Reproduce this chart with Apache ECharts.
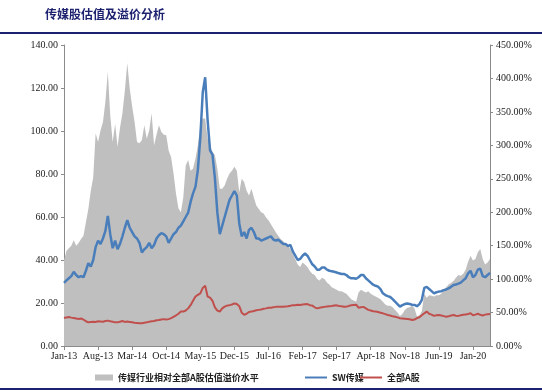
<!DOCTYPE html>
<html>
<head>
<meta charset="utf-8">
<script src="https://cdn.jsdelivr.net/npm/echarts@6/dist/echarts.min.js"></script>
<style>
html,body{margin:0;padding:0;background:#fff;}
#c{width:542px;height:392px;}
</style>
</head>
<body>
<div id="c"></div>
<script>
// Tick labels on the x axis (every 7 months, data is semi-monthly)
var tickLabels = ['Jan-13','Aug-13','Mar-14','Oct-14','May-15','Dec-15','Jul-16','Feb-17','Sep-17','Apr-18','Nov-18','Jun-19','Jan-20'];

// 传媒行业相对全部A股估值溢价水平 (%), right axis, semi-monthly Jan-13 .. mid Apr-20
var premium = [
128,142,146,150,158,150,154,160,165,185,205,232,252,318,305,322,335,365,410,345,305,332,298,326,348,382,423,385,358,335,305,303,308,330,310,322,348,300,316,330,320,316,315,292,282,258,228,206,200,222,
270,278,262,265,280,300,330,340,
340,310,300,290,285,265,235,235,240,250,258,262,268,262,230,250,245,232,225,235,222,210,205,200,198,192,188,
182,176,170,165,160,157,152,150,145,138,130,122,118,125,122,118,112,108,106,100,98,102,100,95,92,88,86,84,82,82,80,78,74,70,68,66,80,84,82,80,82,78,76,74,72,70,66,62,60,60,58,54,50,45,48,54,57,58,60,56,44,46,52,78,72,76,75,74,76,76,78,84,88,92,94,97,102,106,105,108,114,126,135,128,130,140,145,130,122,125,130
];

// SW传媒 PE, left axis
var swMedia = [
29.4,30.5,31.5,32.5,34.5,33,32,32.5,32,35,38.5,37,40,46,49,47.5,50,53.5,60.5,52,45.5,49,45,47.5,51,55,58.5,55,53,51,50,48,43.5,45,46,48,45.5,47,50,51.5,52.5,52,51,48,50,52,53,55,56,58,
60,62,67,71,74,82,97,118,
125,105,91,89,78,62,52,56,60,64,68,70,72,70,57,51,53,50,54,55,53,50,50,49,49.5,50,50.5,
51,49.5,49,49.5,48.5,47.5,47.5,46.5,47,44,42,40,40.5,42,43,42,40,38,37,35.5,35.5,36.5,36.5,35.5,35,34.8,34.5,34.2,33.8,33.5,33.5,33,32,31.5,31.5,31.3,32,33,33,31.5,30.5,29.5,28.5,28,27.6,
26.5,24.5,23.7,23.2,22.8,21.8,20.6,19.5,18.3,19,19.5,19.8,19.5,19.2,19.1,18.5,19.5,21.5,27,27.5,26.5,25.5,24.5,25,25.3,25.5,26,26.3,26.8,27.5,28.4,28.6,29,29.5,30.5,31.5,33.8,35,32,33,35.5,36,32.5,32,33,34
];

// 全部A股 PE, left axis
var allA = [
13,13.3,13.5,13.2,13,12.8,12.6,12.8,12.3,11.5,11,11.2,11.3,11.2,11.5,11.4,11.3,11.6,11.8,11.5,11.3,11,11,11.3,11.6,11.2,11.4,11.2,11,10.8,10.7,10.6,10.6,10.8,11,11.3,11.5,11.6,12,12.1,12.3,12.5,
12.3,12.5,13,13.6,14.2,15,16,16,16.5,17.5,19,21,23,23.8,24.5,27,28,23,22.5,21,18,16.5,16,17.5,18.3,18.8,19,19.3,19.8,19.5,18.5,15.5,14.5,15,15.8,16,16.3,16.6,16.8,17,17.3,17.5,17.8,
17.8,18,18.2,18.3,18.2,18.3,18.4,18.5,18.7,19,19,19.2,19.1,19.3,19.4,19.5,19,18.8,18,17.5,17.8,18,18.2,18.4,18.5,18.6,18.8,18.9,18.6,18.5,18.3,18.3,18.6,19,19.1,19.2,17.8,18,18.2,17.5,16.8,16.5,16.2,16,
15.8,15.5,15.2,14.8,14.4,14.2,13.8,13.6,13.3,12.9,12.8,12.7,12.6,12.4,12.1,12.3,13,13.4,14.3,15.2,16,15,14.6,14,14.3,14.4,14.2,13.9,13.6,13.8,14.2,14.4,14.1,14,14.3,14.5,14.7,14.9,15.2,14.3,14.6,15,14.5,14.2,14.6,14.8,14.9
];

var STEP = 14; // categories between labelled ticks
var categories = [];
for (var i = 0; i < swMedia.length; i++) {
  categories.push(i % STEP === 0 && tickLabels[i / STEP] ? tickLabels[i / STEP] : ('p' + i));
}

var NAME_P = '传媒行业相对全部A股估值溢价水平';
var NAME_S = 'SW传媒';
var NAME_A = '全部A股';
var navy = '#1d2270';
var serif = 'Liberation Serif';
var cjk = 'Noto Sans CJK SC';
var legendText = {fontFamily: cjk, fontSize: 9, fontWeight: 'bold', color: '#222'};

var chart = echarts.init(document.getElementById('c'), null, {renderer: 'canvas'});
chart.setOption({
  animation: false,
  backgroundColor: '#ffffff',
  title: {
    text: '传媒股估值及溢价分析',
    left: 40, top: 3,
    textStyle: {fontFamily: cjk, fontSize: 12, fontWeight: 'bold', color: navy}
  },
  graphic: [
    {type: 'rect', shape: {x: 0, y: 32, width: 542, height: 2}, style: {fill: navy}, silent: true},
    {type: 'rect', shape: {x: 0, y: 388, width: 542, height: 2}, style: {fill: navy}, silent: true}
  ],
  legend: [
    {data: [{name: NAME_P, icon: 'rect'}], left: 90, top: 368, itemWidth: 18, itemHeight: 6,
     textStyle: legendText},
    {data: [{name: NAME_S, icon: 'rect'}], left: 300, top: 368, itemWidth: 22, itemHeight: 2,
     textStyle: legendText},
    {data: [{name: NAME_A, icon: 'rect'}], left: 355, top: 368, itemWidth: 22, itemHeight: 2,
     textStyle: legendText}
  ],
  grid: {left: 64, right: 52, top: 45, bottom: 46, containLabel: false},
  xAxis: {
    type: 'category',
    boundaryGap: false,
    data: categories,
    axisLine: {lineStyle: {color: '#8a8a8a', width: 1}},
    axisTick: {show: true, length: 4, lineStyle: {color: '#8a8a8a'},
      interval: function (idx) { return idx % STEP === 0; }},
    axisLabel: {
      interval: function (idx) { return idx % STEP === 0; },
      fontFamily: serif, fontSize: 10, color: '#222', margin: 5,
      formatter: function (v) { return v.charAt(0) === 'p' ? '' : v; }
    },
    splitLine: {show: false}
  },
  yAxis: [
    {
      type: 'value', position: 'left', min: 0, max: 140, interval: 20,
      axisLine: {show: true, lineStyle: {color: '#8a8a8a'}},
      axisTick: {show: true, length: 3, lineStyle: {color: '#8a8a8a'}},
      axisLabel: {fontFamily: serif, fontSize: 10, color: '#222', margin: 6,
        formatter: function (v) { return v.toFixed(2); }},
      splitLine: {show: false}
    },
    {
      type: 'value', position: 'right', min: 0, max: 450, interval: 50,
      axisLine: {show: true, lineStyle: {color: '#8a8a8a'}},
      axisTick: {show: true, length: 3, lineStyle: {color: '#8a8a8a'}},
      axisLabel: {fontFamily: serif, fontSize: 10, color: '#222', margin: 6,
        formatter: function (v) { return v.toFixed(2) + '%'; }},
      splitLine: {show: false}
    }
  ],
  series: [
    {
      name: NAME_P, type: 'line', yAxisIndex: 1, data: premium,
      symbol: 'none', showSymbol: false,
      lineStyle: {width: 0, color: '#bfbfbf'},
      itemStyle: {color: '#bfbfbf'},
      areaStyle: {color: '#bfbfbf', opacity: 1},
      z: 1
    },
    {
      name: NAME_A, type: 'line', yAxisIndex: 0, data: allA,
      symbol: 'none', showSymbol: false,
      lineStyle: {width: 2, color: '#c0504d'},
      itemStyle: {color: '#c0504d'},
      z: 3
    },
    {
      name: NAME_S, type: 'line', yAxisIndex: 0, data: swMedia,
      symbol: 'none', showSymbol: false,
      lineStyle: {width: 2.5, color: '#4a7ebb'},
      itemStyle: {color: '#4a7ebb'},
      z: 4
    }
  ]
});
</script>
</body>
</html>
